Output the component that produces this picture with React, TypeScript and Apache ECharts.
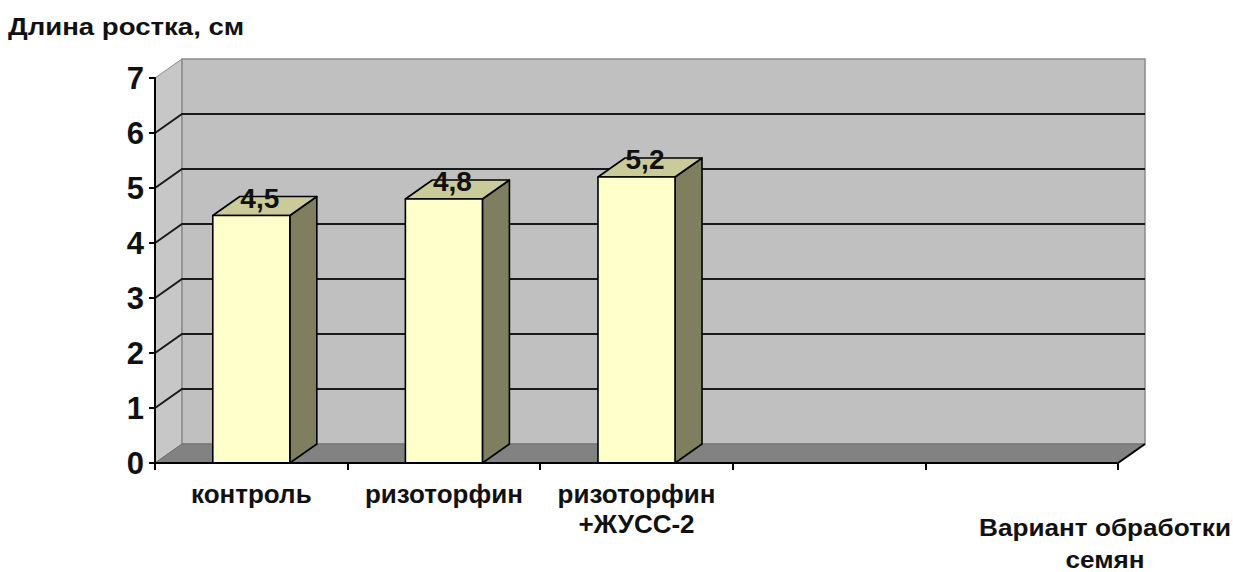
import React, { useEffect, useRef } from "react";
import * as echarts from "echarts";

const categories = ["контроль", "ризоторфин", "ризоторфин\n+ЖУСС-2", "", ""];
const values = [4.5, 4.8, 5.2];
const yTicks = [0, 1, 2, 3, 4, 5, 6, 7];
const yTitle = "Длина ростка, см";
const xTitle = "Вариант обработки\nсемян";

const FONT = '"Liberation Sans", Arial, sans-serif';
const DX = 27;
const DY = -19;
const Y_MIN = yTicks[0];
const Y_MAX = yTicks[yTicks.length - 1];

export default function App() {
  const ref = useRef<HTMLDivElement>(null);
  useEffect(() => {
    if (!ref.current) return;
    const chart = echarts.init(ref.current, null, { renderer: "svg" });
    const wallStroke = "#8a8a8a";
    chart.setOption({
      animation: false,
      backgroundColor: "#ffffff",
      grid: { left: 155, right: 115, top: 78, bottom: 109, containLabel: false },
      xAxis: {
        type: "category",
        data: categories,
        z: 10,
        boundaryGap: true,
        axisLine: { show: true, lineStyle: { color: "#000", width: 2 } },
        axisTick: { show: true, interval: 0, length: 7, lineStyle: { color: "#000", width: 2 } },
        axisLabel: {
          interval: 0,
          margin: 16,
          color: "#111",
          fontFamily: FONT,
          fontWeight: "bold",
          fontSize: 26,
          lineHeight: 30,
        },
        splitLine: { show: false },
      },
      yAxis: {
        type: "value",
        min: Y_MIN,
        max: Y_MAX,
        interval: 1,
        z: 10,
        axisLine: { show: true, lineStyle: { color: "#000", width: 2 } },
        axisTick: { show: true, length: 6, lineStyle: { color: "#000", width: 2 } },
        axisLabel: {
          margin: 11,
          color: "#111",
          fontFamily: FONT,
          fontWeight: "bold",
          fontSize: 31,
        },
        splitLine: { show: false },
      },
      graphic: [
        {
          type: "text",
          x: 8,
          y: 15,
          scaleX: 1.2,
          style: {
            text: yTitle,
            font: `bold 23px ${FONT}`,
            fill: "#111",
            align: "left",
            verticalAlign: "top",
          },
        },
        {
          type: "text",
          x: 1105,
          y: 511,
          scaleX: 1.09,
          style: {
            text: xTitle,
            font: `bold 24px ${FONT}`,
            fill: "#111",
            align: "center",
            verticalAlign: "top",
            lineHeight: 32,
          },
        },
      ],
      series: [
        {
          type: "custom",
          name: "walls",
          z: 1,
          clip: false,
          silent: true,
          encode: { x: 0, y: 1 },
          data: [[0, Y_MIN]],
          renderItem: (params: any, api: any) => {
            const cs = params.coordSys;
            const x0 = cs.x;
            const x1 = cs.x + cs.width;
            const yTop = api.coord([0, Y_MAX])[1];
            const yBot = api.coord([0, Y_MIN])[1];
            return {
              type: "group",
              children: [
                {
                  type: "polygon",
                  shape: { points: [[x0, yBot], [x0, yTop], [x0 + DX, yTop + DY], [x0 + DX, yBot + DY]] },
                  style: { fill: "#c7c7c7", stroke: wallStroke, lineWidth: 1 },
                },
                {
                  type: "polygon",
                  shape: { points: [[x0 + DX, yTop + DY], [x1 + DX, yTop + DY], [x1 + DX, yBot + DY], [x0 + DX, yBot + DY]] },
                  style: { fill: "#c0c0c0", stroke: wallStroke, lineWidth: 1.5 },
                },
                {
                  type: "polygon",
                  shape: { points: [[x0, yBot], [x0 + DX, yBot + DY], [x1 + DX, yBot + DY], [x1, yBot]] },
                  style: { fill: "#828282", stroke: "#6f6f6f", lineWidth: 1 },
                },
                {
                  type: "line",
                  shape: { x1: x1, y1: yBot, x2: x1 + DX, y2: yBot + DY },
                  style: { stroke: "#000", lineWidth: 2 },
                },
              ],
            };
          },
        },
        {
          type: "custom",
          name: "gridlines",
          z: 2,
          clip: false,
          silent: true,
          encode: { x: 0, y: 1 },
          data: yTicks.filter((v) => v > Y_MIN && v < Y_MAX).map((v) => [0, v]),
          renderItem: (params: any, api: any) => {
            const cs = params.coordSys;
            const x0 = cs.x;
            const x1 = cs.x + cs.width;
            const y = api.coord([0, api.value(1)])[1];
            return {
              type: "group",
              children: [
                {
                  type: "polyline",
                  shape: { points: [[x0, y], [x0 + DX, y + DY], [x1 + DX, y + DY]] },
                  style: { stroke: "#1a1a1a", lineWidth: 2, fill: "none" },
                },
              ],
            };
          },
        },
        {
          type: "custom",
          name: "Длина ростка",
          z: 3,
          clip: false,
          encode: { x: 0, y: 1 },
          data: values.map((v, i) => [i, v]),
          renderItem: (params: any, api: any) => {
            const v = api.value(1);
            const c = api.coord([api.value(0), v]);
            const base = api.coord([api.value(0), Y_MIN]);
            const bw = api.size([1, 0])[0] * 0.4;
            const xl = c[0] - bw / 2;
            const xr = c[0] + bw / 2;
            const yt = c[1];
            const yb = base[1];
            const edge = { stroke: "#000", lineWidth: 1.6, lineJoin: "round" };
            return {
              type: "group",
              children: [
                {
                  type: "polygon",
                  shape: { points: [[xr, yt], [xr + DX, yt + DY], [xr + DX, yb + DY], [xr, yb]] },
                  style: { fill: "#7f7f60", ...edge },
                },
                {
                  type: "polygon",
                  shape: { points: [[xl, yt], [xl + DX, yt + DY], [xr + DX, yt + DY], [xr, yt]] },
                  style: { fill: "#cbcb99", ...edge },
                },
                {
                  type: "rect",
                  shape: { x: xl, y: yt, width: bw, height: yb - yt },
                  style: { fill: "#ffffcc", ...edge },
                },
                {
                  type: "text",
                  x: c[0] + DX / 2 - 5,
                  y: yt + DY / 2 - 8,
                  style: {
                    text: String(v).replace(".", ","),
                    font: `bold 28px ${FONT}`,
                    fill: "#111",
                    align: "center",
                    verticalAlign: "middle",
                  },
                },
              ],
            };
          },
        },
      ],
    });
    return () => chart.dispose();
  }, []);
  return (
    <div
      ref={ref}
      style={{ position: "fixed", left: 0, top: 0, width: 1233, height: 572 }}
    />
  );
}
